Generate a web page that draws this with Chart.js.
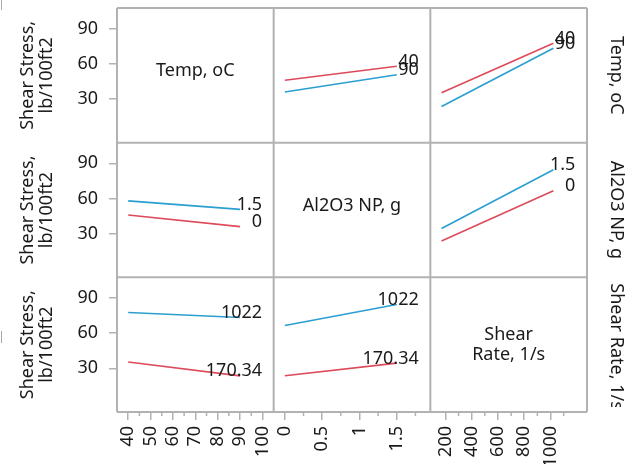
<!DOCTYPE html>
<html>
<head>
<meta charset="utf-8">
<script src="https://cdn.jsdelivr.net/npm/chart.js@4/dist/chart.umd.min.js"></script>
<style>
  html, body { margin: 0; padding: 0; background: #ffffff; }
  #wrap { width: 640px; height: 464px; position: relative; }
</style>
</head>
<body>
<div id="wrap"><canvas id="c" width="640" height="464"></canvas></div>
<script>
// Factors of the interaction matrix (rows = grouping factor, columns = x factor)
const factorNames = ['Temp, oC', 'Al2O3 NP, g', 'Shear Rate, 1/s'];
const diagonalTitles = [['Temp, oC'], ['Al2O3 NP, g'], ['Shear', 'Rate, 1/s']];
const stressTitle = ['Shear Stress,', 'lb/100ft2'];

// Factor levels
const tempLevels = [40, 90];
const al2o3Levels = [0, 1.5];
const shearLevels = [170.34, 1022];
const tempLevelLabels = ['40', '90'];
const al2o3LevelLabels = ['0', '1.5'];
const shearLevelLabels = ['170.34', '1022'];

// Mean shear stress (lb/100ft2) for each pair of factor levels
const temp40VsAl2o3 = [46.0, 58.0];
const temp90VsAl2o3 = [36.0, 50.7];
const temp40VsShear = [35.4, 77.6];
const temp90VsShear = [23.6, 73.3];
const al0VsTemp = [46.0, 36.0];
const al15VsTemp = [58.0, 50.7];
const al0VsShear = [23.7, 66.6];
const al15VsShear = [34.5, 84.5];
const shear170VsTemp = [35.4, 23.6];
const shear1022VsTemp = [77.6, 73.3];
const shear170VsAl2o3 = [23.7, 34.5];
const shear1022VsAl2o3 = [66.6, 84.5];

// Axis ticks
const stressTicks = [30, 60, 90];
const tempTicks = [40, 50, 60, 70, 80, 90, 100];
const tempMinorTicks = [45, 55, 65, 75, 85, 95];
const al2o3Ticks = [0, 0.5, 1, 1.5];
const al2o3MinorTicks = [0.25, 0.75, 1.25, 1.75];
const shearTicks = [200, 400, 600, 800, 1000];
const shearMinorTicks = [300, 500, 700, 900, 1100];

const RED = '#dd4a5a';
const BLUE = '#2a9fd0';
const FRAME = '#b2b2b2';
const TEXT = '#1a1a1a';
const FAMILY = '"Noto Sans", "Open Sans", sans-serif';
const FONT_SIZE = 18;

function series(xAxisID, yAxisID, xs, ys, color, text) {
  return {
    xAxisID, yAxisID,
    data: xs.map((x, k) => ({ x: x, y: ys[k] })),
    borderColor: color,
    backgroundColor: color,
    borderWidth: 1.6,
    pointRadius: 0,
    tension: 0,
    fill: false,
    levelText: text
  };
}

const datasets = [
  // row 0: grouped by temperature
  series('x1', 'y0', al2o3Levels, temp40VsAl2o3, RED, tempLevelLabels[0]),
  series('x1', 'y0', al2o3Levels, temp90VsAl2o3, BLUE, tempLevelLabels[1]),
  series('x2', 'y0', shearLevels, temp40VsShear, RED, tempLevelLabels[0]),
  series('x2', 'y0', shearLevels, temp90VsShear, BLUE, tempLevelLabels[1]),
  // row 1: grouped by Al2O3 loading
  series('x0', 'y1', tempLevels, al0VsTemp, RED, al2o3LevelLabels[0]),
  series('x0', 'y1', tempLevels, al15VsTemp, BLUE, al2o3LevelLabels[1]),
  series('x2', 'y1', shearLevels, al0VsShear, RED, al2o3LevelLabels[0]),
  series('x2', 'y1', shearLevels, al15VsShear, BLUE, al2o3LevelLabels[1]),
  // row 2: grouped by shear rate
  series('x0', 'y2', tempLevels, shear170VsTemp, RED, shearLevelLabels[0]),
  series('x0', 'y2', tempLevels, shear1022VsTemp, BLUE, shearLevelLabels[1]),
  series('x1', 'y2', al2o3Levels, shear170VsAl2o3, RED, shearLevelLabels[0]),
  series('x1', 'y2', al2o3Levels, shear1022VsAl2o3, BLUE, shearLevelLabels[1])
];

const tickFont = { family: FAMILY, size: FONT_SIZE };

// Left-side boxes are laid out in reverse weight order, so the top row gets the largest weight.
function stressAxis(weight) {
  return {
    type: 'linear',
    position: 'left',
    stack: 'rows',
    stackWeight: 1,
    weight: weight,
    min: -7.2,
    max: 107.6,
    afterBuildTicks: s => { s.ticks = stressTicks.map(v => ({ value: v })); },
    afterFit: s => { s.width = 117; s.paddingTop = 0; s.paddingBottom = 0; },
    grid: { display: true, drawOnChartArea: false, drawTicks: true, tickLength: 8, color: FRAME, lineWidth: 1.5 },
    border: { display: false },
    ticks: { font: tickFont, color: TEXT, padding: 11, callback: v => String(v) },
    title: {
      display: true,
      text: stressTitle,
      color: TEXT,
      font: { family: FAMILY, size: FONT_SIZE, lineHeight: 1.06 },
      padding: { top: 18, bottom: 0 }
    }
  };
}

function factorAxis(min, max, ticks) {
  return {
    type: 'linear',
    position: 'bottom',
    stack: 'cols',
    stackWeight: 1,
    min: min,
    max: max,
    afterBuildTicks: s => { s.ticks = ticks.map(v => ({ value: v })); },
    afterFit: s => { s.height = 52; s.paddingLeft = 0; s.paddingRight = 0; },
    grid: { display: true, drawOnChartArea: false, drawTicks: true, tickLength: 8, color: FRAME, lineWidth: 1.5 },
    border: { display: false },
    ticks: { font: tickFont, color: TEXT, padding: 6, autoSkip: false, minRotation: 90, maxRotation: 90, callback: v => String(v) }
  };
}

const minorTicks = { x0: tempMinorTicks, x1: al2o3MinorTicks, x2: shearMinorTicks };

const matrixPlugin = {
  id: 'matrixDecor',
  afterDatasetsDraw(chart) {
    const ctx = chart.ctx;
    ctx.save();
    ctx.font = FONT_SIZE + 'px ' + FAMILY;
    ctx.fillStyle = TEXT;
    ctx.textAlign = 'right';
    ctx.textBaseline = 'alphabetic';
    chart.data.datasets.forEach((ds, i) => {
      const pts = chart.getDatasetMeta(i).data;
      const end = pts[pts.length - 1];
      ctx.fillText(ds.levelText, end.x + 22, end.y + 0.5);
    });
    ctx.restore();
  },
  afterDraw(chart) {
    const ctx = chart.ctx;
    const xs = ['x0', 'x1', 'x2'].map(id => chart.scales[id]);
    const ys = ['y0', 'y1', 'y2'].map(id => chart.scales[id]);
    const area = chart.chartArea;

    // minor ticks on the factor axes
    ctx.save();
    ctx.strokeStyle = FRAME;
    ctx.lineWidth = 1.5;
    ['x0', 'x1', 'x2'].forEach(id => {
      const s = chart.scales[id];
      minorTicks[id].forEach(v => {
        const px = s.getPixelForValue(v);
        ctx.beginPath();
        ctx.moveTo(px, s.top);
        ctx.lineTo(px, s.top + 4);
        ctx.stroke();
      });
    });

    // cell frames
    ctx.lineWidth = 2;
    ctx.strokeStyle = FRAME;
    ctx.beginPath();
    xs.forEach(s => { ctx.moveTo(s.left, area.top); ctx.lineTo(s.left, area.bottom); });
    ctx.moveTo(area.right, area.top); ctx.lineTo(area.right, area.bottom);
    ys.forEach(s => { ctx.moveTo(area.left, s.top); ctx.lineTo(area.right, s.top); });
    ctx.moveTo(area.left, area.bottom); ctx.lineTo(area.right, area.bottom);
    ctx.stroke();

    // thin marks at the left edge of the page
    ctx.lineWidth = 1;
    ctx.strokeStyle = '#a8a8a8';
    ctx.beginPath();
    ctx.moveTo(1.5, 0); ctx.lineTo(1.5, 10);
    ctx.moveTo(1.5, 331); ctx.lineTo(1.5, 343);
    ctx.stroke();

    ctx.font = FONT_SIZE + 'px ' + FAMILY;
    ctx.fillStyle = TEXT;

    // factor names on the diagonal
    ctx.textAlign = 'center';
    ctx.textBaseline = 'middle';
    diagonalTitles.forEach((lines, i) => {
      const cx = (xs[i].left + xs[i].right) / 2;
      const cy = (ys[i].top + ys[i].bottom) / 2;
      const lh = 19.5;
      const y0 = cy - (lines.length - 1) * lh / 2 - 4 + (lines.length - 1) * 4;
      lines.forEach((t, k) => ctx.fillText(t, cx, y0 + k * lh));
    });

    // factor names along the right side, rotated
    factorNames.forEach((name, i) => {
      const s = ys[i];
      const h = s.bottom - s.top;
      const w = ctx.measureText(name).width;
      ctx.save();
      ctx.beginPath();
      ctx.rect(area.right + 1, s.top, chart.width - area.right, h - 5);
      ctx.clip();
      ctx.translate(616, w > h - 12 ? s.top + 6 : (s.top + s.bottom) / 2);
      ctx.rotate(Math.PI / 2);
      ctx.textAlign = w > h - 12 ? 'left' : 'center';
      ctx.textBaseline = 'middle';
      ctx.fillText(name, 0, 0);
      ctx.restore();
    });
    ctx.restore();
  }
};

new Chart(document.getElementById('c'), {
  type: 'line',
  data: { datasets: datasets },
  options: {
    responsive: false,
    animation: false,
    events: [],
    layout: { padding: { top: 8, right: 53, left: 0, bottom: 0 } },
    plugins: { legend: { display: false }, tooltip: { enabled: false } },
    scales: {
      y0: stressAxis(3),
      y1: stressAxis(2),
      y2: stressAxis(1),
      x0: factorAxis(35, 105, tempTicks),
      x1: factorAxis(-0.15, 1.95, al2o3Ticks),
      x2: factorAxis(85.17, 1277.8, shearTicks)
    }
  },
  plugins: [matrixPlugin]
});
</script>
</body>
</html>
